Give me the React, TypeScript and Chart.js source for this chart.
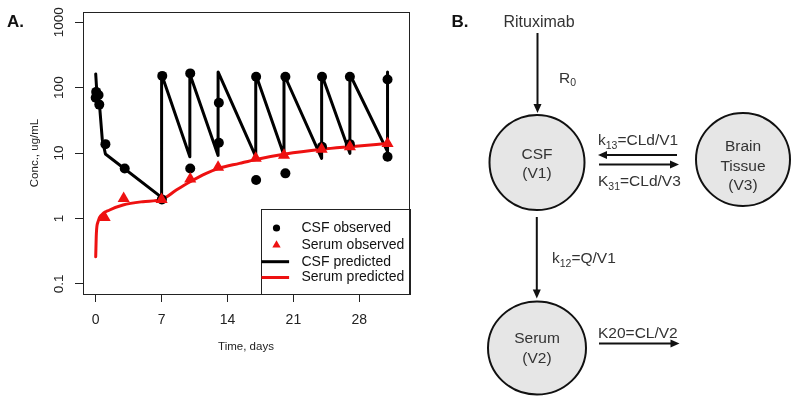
import React, { useEffect, useRef } from "react";
import { Chart, registerables } from "chart.js";

Chart.register(...registerables);

// ---------------- data ----------------
const xTickValues = [0, 7, 14, 21, 28];
const xTickLabels = ["0", "7", "14", "21", "28"];
const yTickValues = [0.1, 1, 10, 100, 1000];
const yTickLabels = ["0.1", "1", "10", "100", "1000"];

const seriesLabels = ["CSF observed", "Serum observed", "CSF predicted", "Serum predicted"];

const csfObsDay = [0, 0.05, 0.3, 0.38, 1.03, 3.08, 7.03, 7.07, 10.04, 10.04, 13.08, 13.08, 17.04, 17.04, 20.15, 20.15, 24.04, 24.04, 27.0, 27.0, 31.0, 31.0];
const csfObsConc = [70, 86, 77, 55, 13.7, 5.8, 1.96, 151, 165, 5.8, 58.6, 14.4, 147, 3.87, 147, 4.9, 147, 12.5, 147, 13.7, 133, 8.8];

const serumObsDay = [0.95, 2.97, 7.0, 10.04, 13.0, 17.0, 20.0, 24.0, 27.0, 31.0];
const serumObsConc = [1.04, 2.03, 1.96, 4.0, 6.05, 8.3, 9.3, 11.4, 12.5, 14.0];

const csfPredDay = [0, 0.15, 0.42, 0.7, 1.03, 7.0, 7.0, 10.0, 10.0, 13.0, 13.0, 17.0, 17.0, 20.0, 20.0, 24.0, 24.0, 27.0, 27.0, 31.0, 31.0];
const csfPredConc = [162, 72, 51, 16, 9.7, 2.1, 160, 8.8, 162, 9.2, 174, 8.8, 160, 9.3, 160, 8.3, 160, 9.9, 160, 10.5, 174];

const serumPredDay = [0, 0.07, 0.24, 0.6, 1.48, 2.9, 5.0, 7.03, 8.56, 10.04, 11.74, 13.07, 15.27, 17.04, 20.15, 24.04, 27.0, 31.2];
const serumPredConc = [0.26, 0.59, 0.89, 1.13, 1.35, 1.61, 1.81, 1.96, 2.72, 3.65, 4.9, 5.84, 6.97, 8.0, 9.66, 11.4, 12.5, 14.1];

// ---------------- styles ----------------
const FONT = "'Liberation Sans', Arial, sans-serif";
const INK = "#222222";
const RED = "#ee1111";
const BLACK = "#000000";
const TXT = "#333333";

const pts = (xs: number[], ys: number[]) => xs.map((x, i) => ({ x, y: ys[i] }));

const panelPlugin = {
  id: "panelA",
  afterDatasetsDraw(chart: any) {
    const { ctx, chartArea: ca } = chart;
    const ds = chart.data.datasets;
    const find = (label: string) => ds.find((d: any) => d.label === label);
    const lx = ca.right - 148.5;
    const ly = ca.bottom - 85;
    ctx.save();
    ctx.fillStyle = "#ffffff";
    ctx.fillRect(lx, ly, ca.right - lx, ca.bottom - ly);
    ctx.strokeStyle = INK;
    ctx.lineWidth = 1;
    ctx.strokeRect(Math.round(lx) + 0.5, Math.round(ly) + 0.5, Math.round(ca.right - lx), Math.round(ca.bottom - ly));
    const rows = [19, 36, 52.7, 68.5];
    ctx.font = `14px ${FONT}`;
    ctx.textBaseline = "middle";
    ctx.textAlign = "left";
    seriesLabels.forEach((label, i) => {
      const d: any = find(label);
      const y = ly + rows[i];
      const cx = lx + 16;
      if (d.showLine) {
        ctx.strokeStyle = d.borderColor;
        ctx.lineWidth = 3;
        ctx.beginPath();
        ctx.moveTo(lx + 1, y);
        ctx.lineTo(lx + 28.6, y);
        ctx.stroke();
      } else if (d.pointStyle === "triangle") {
        const r = 4.8;
        ctx.fillStyle = d.backgroundColor;
        ctx.beginPath();
        ctx.moveTo(cx, y - r);
        ctx.lineTo(cx + r * 0.866, y + r / 2);
        ctx.lineTo(cx - r * 0.866, y + r / 2);
        ctx.closePath();
        ctx.fill();
      } else {
        ctx.fillStyle = d.backgroundColor;
        ctx.beginPath();
        ctx.arc(cx, y, 3.6, 0, Math.PI * 2);
        ctx.fill();
      }
      ctx.fillStyle = "#111111";
      ctx.fillText(label, lx + 41, y);
    });
    ctx.restore();
  },
  afterDraw(chart: any) {
    const { ctx, chartArea: ca } = chart;
    ctx.save();
    ctx.strokeStyle = INK;
    ctx.lineWidth = 1;
    ctx.strokeRect(Math.round(ca.left) + 0.5, Math.round(ca.top) + 0.5, Math.round(ca.right - ca.left), Math.round(ca.bottom - ca.top));
    ctx.fillStyle = "#111111";
    ctx.font = `bold 17px ${FONT}`;
    ctx.textBaseline = "alphabetic";
    ctx.fillText("A.", 7, 26.5);
    ctx.restore();
  },
};

function Arrow({ x1, y1, x2, y2 }: { x1: number; y1: number; x2: number; y2: number }) {
  const len = Math.hypot(x2 - x1, y2 - y1);
  const ux = (x2 - x1) / len;
  const uy = (y2 - y1) / len;
  const hl = 9;
  const hw = 4;
  const bx = x2 - ux * hl;
  const by = y2 - uy * hl;
  const p = `${x2},${y2} ${bx - uy * hw},${by + ux * hw} ${bx + uy * hw},${by - ux * hw}`;
  return (
    <g>
      <line x1={x1} y1={y1} x2={bx + ux} y2={by + uy} stroke="#111" strokeWidth={2} />
      <polygon points={p} fill="#111" />
    </g>
  );
}

function Diagram() {
  const fs = 15.5;
  const sub = 10.5;
  return (
    <svg
      width={800}
      height={402}
      style={{ position: "absolute", left: 0, top: 0, pointerEvents: "none" }}
      fontFamily={FONT}
    >
      <text x={451.5} y={26.5} fontSize={17} fontWeight="bold" fill="#111">B.</text>
      <text x={539} y={27.3} fontSize={16} fill={TXT} textAnchor="middle">Rituximab</text>
      <Arrow x1={537.5} y1={33} x2={537.5} y2={113} />
      <text x={559} y={82.5} fontSize={fs} fill={TXT}>R<tspan fontSize={sub} dy={3.5}>0</tspan></text>

      <ellipse cx={537} cy={162.5} rx={47.5} ry={47.5} fill="#e6e6e6" stroke="#111" strokeWidth={2} />
      <text x={537} y={158.5} fontSize={fs} fill={TXT} textAnchor="middle">CSF</text>
      <text x={537} y={178} fontSize={fs} fill={TXT} textAnchor="middle">(V1)</text>

      <ellipse cx={743} cy={159.5} rx={47} ry={46.5} fill="#e6e6e6" stroke="#111" strokeWidth={2} />
      <text x={743} y={151} fontSize={fs} fill={TXT} textAnchor="middle">Brain</text>
      <text x={743} y={170.5} fontSize={fs} fill={TXT} textAnchor="middle">Tissue</text>
      <text x={743} y={190} fontSize={fs} fill={TXT} textAnchor="middle">(V3)</text>

      <text x={598} y={145} fontSize={fs} fill={TXT}>k<tspan fontSize={sub} dy={3.5}>13</tspan><tspan dy={-3.5}>=CLd/V1</tspan></text>
      <Arrow x1={677} y1={155} x2={598} y2={155} />
      <Arrow x1={599} y1={164.5} x2={679} y2={164.5} />
      <text x={598} y={186} fontSize={fs} fill={TXT}>K<tspan fontSize={sub} dy={3.5}>31</tspan><tspan dy={-3.5}>=CLd/V3</tspan></text>

      <Arrow x1={536.8} y1={217} x2={536.8} y2={298.5} />
      <text x={552} y={263} fontSize={fs} fill={TXT}>k<tspan fontSize={sub} dy={3.5}>12</tspan><tspan dy={-3.5}>=Q/V1</tspan></text>

      <ellipse cx={537} cy={348} rx={49} ry={46.5} fill="#e6e6e6" stroke="#111" strokeWidth={2} />
      <text x={537} y={343.3} fontSize={fs} fill={TXT} textAnchor="middle">Serum</text>
      <text x={537} y={363} fontSize={fs} fill={TXT} textAnchor="middle">(V2)</text>

      <text x={598} y={337.5} fontSize={fs} fill={TXT}>K20=CL/V2</text>
      <Arrow x1={599} y1={343.5} x2={679.5} y2={343.5} />
    </svg>
  );
}

export default function App() {
  const ref = useRef<HTMLCanvasElement | null>(null);

  useEffect(() => {
    if (!ref.current) return;
    const chart = new Chart(ref.current, {
      type: "scatter",
      data: {
        datasets: [
          {
            label: seriesLabels[1],
            data: pts(serumObsDay, serumObsConc),
            pointStyle: "triangle",
            pointRadius: 7,
            backgroundColor: RED,
            borderColor: RED,
            borderWidth: 0,
            showLine: false,
          },
          {
            label: seriesLabels[0],
            data: pts(csfObsDay, csfObsConc),
            pointStyle: "circle",
            pointRadius: 5,
            backgroundColor: BLACK,
            borderColor: BLACK,
            borderWidth: 0,
            showLine: false,
          },
          {
            label: seriesLabels[3],
            data: pts(serumPredDay, serumPredConc),
            showLine: true,
            borderColor: RED,
            backgroundColor: RED,
            borderWidth: 3,
            borderJoinStyle: "round",
            borderCapStyle: "round",
            pointRadius: 0,
            cubicInterpolationMode: "monotone",
          },
          {
            label: seriesLabels[2],
            data: pts(csfPredDay, csfPredConc),
            showLine: true,
            borderColor: BLACK,
            backgroundColor: BLACK,
            borderWidth: 3,
            borderJoinStyle: "round",
            borderCapStyle: "round",
            pointRadius: 0,
            tension: 0,
          },
        ],
      } as any,
      options: {
        animation: false,
        responsive: false,
        devicePixelRatio: 1,
        layout: { padding: { left: 0, top: 12, right: 391, bottom: 0 } },
        plugins: { legend: { display: false }, tooltip: { enabled: false } },
        scales: {
          x: {
            type: "linear",
            min: -1.35,
            max: 33.28,
            afterBuildTicks: (s: any) => {
              s.ticks = xTickValues.map((v) => ({ value: v }));
            },
            afterFit: (s: any) => {
              s.height = 108;
            },
            grid: { display: true, drawOnChartArea: false, drawTicks: true, tickLength: 8, color: INK, lineWidth: 1 },
            border: { display: false },
            ticks: {
              autoSkip: false,
              minRotation: 0,
              maxRotation: 0,
              padding: 10,
              color: INK,
              font: { family: FONT, size: 14 },
              callback: (_v: any, i: number) => xTickLabels[i],
            },
            title: {
              display: true,
              text: "Time, days",
              color: INK,
              font: { family: FONT, size: 11.5 },
              padding: { top: 0, bottom: 48 },
            },
          },
          y: {
            type: "logarithmic",
            min: 0.0703,
            max: 1430,
            afterBuildTicks: (s: any) => {
              s.ticks = yTickValues.map((v) => ({ value: v }));
            },
            afterFit: (s: any) => {
              s.width = 83;
            },
            grid: { display: true, drawOnChartArea: false, drawTicks: true, tickLength: 8, color: INK, lineWidth: 1 },
            border: { display: false },
            ticks: {
              autoSkip: false,
              minRotation: 90,
              maxRotation: 90,
              crossAlign: "center",
              padding: 1,
              color: INK,
              font: { family: FONT, size: 13.5 },
              callback: (_v: any, i: number) => yTickLabels[i],
            },
            title: {
              display: true,
              text: "Conc., ug/mL",
              color: INK,
              font: { family: FONT, size: 11.5 },
              padding: { top: 28, bottom: 0 },
            },
          },
        },
      } as any,
      plugins: [panelPlugin],
    });
    return () => chart.destroy();
  }, []);

  return (
    <div style={{ position: "absolute", left: 0, top: 0, width: 800, height: 402, background: "#fff" }}>
      <canvas ref={ref} width={800} height={402} style={{ display: "block" }} />
      <Diagram />
    </div>
  );
}
